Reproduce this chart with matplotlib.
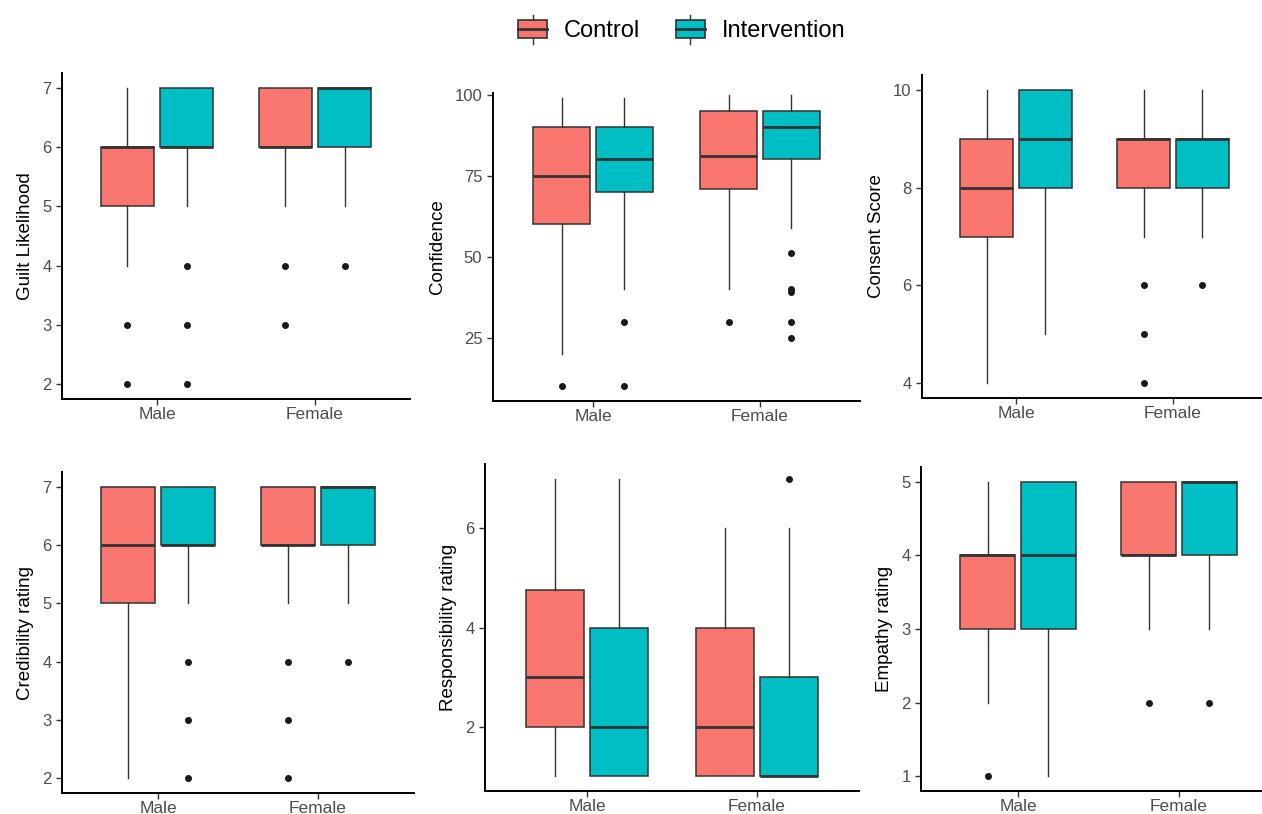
import matplotlib
matplotlib.use('Agg')
import matplotlib.pyplot as plt
from matplotlib.patches import Rectangle
from matplotlib.lines import Line2D
from matplotlib.legend_handler import HandlerBase

plt.rcParams['font.family'] = ['Liberation Sans', 'DejaVu Sans']

W, H = 1262, 814

GENDERS = ['Male', 'Female']
ARMS = ['Control', 'Intervention']
ARM_COLORS = ['#F8766D', '#00BFC4']

# order of boxes: Male-Control, Male-Intervention, Female-Control, Female-Intervention
# each row: whislo, q1, median, q3, whishi
guilt_stats = [[4, 5, 6, 6, 7], [5, 6, 6, 7, 7], [5, 6, 6, 7, 7], [5, 6, 7, 7, 7]]
guilt_fliers = [[3, 2], [4, 3, 2], [4, 3], [4]]

confidence_stats = [[20, 60, 75, 90, 99], [40, 70, 80, 90, 99],
                    [40, 71, 81, 95, 100], [59, 80, 90, 95, 100]]
confidence_fliers = [[10], [30, 10], [30], [51, 40, 39, 30, 25]]

consent_stats = [[4, 7, 8, 9, 10], [5, 8, 9, 10, 10], [7, 8, 9, 9, 10], [7, 8, 9, 9, 10]]
consent_fliers = [[], [], [6, 5, 4], [6]]

credibility_stats = [[2, 5, 6, 7, 7], [5, 6, 6, 7, 7], [5, 6, 6, 7, 7], [5, 6, 7, 7, 7]]
credibility_fliers = [[], [4, 3, 2], [4, 3, 2], [4]]

responsibility_stats = [[1, 2, 3, 4.75, 7], [1, 1, 2, 4, 7], [1, 1, 2, 4, 6], [1, 1, 1, 3, 6]]
responsibility_fliers = [[], [], [], [7]]

empathy_stats = [[2, 3, 4, 4, 5], [1, 3, 4, 5, 5], [3, 4, 4, 5, 5], [3, 4, 5, 5, 5]]
empathy_fliers = [[1], [], [2], [2]]

panels = [
    ('Guilt Likelihood', guilt_stats, guilt_fliers, [2, 3, 4, 5, 6, 7], (1.75, 7.25)),
    ('Confidence', confidence_stats, confidence_fliers, [25, 50, 75, 100], (5.5, 100.5)),
    ('Consent Score', consent_stats, consent_fliers, [4, 6, 8, 10], (3.7, 10.3)),
    ('Credibility rating', credibility_stats, credibility_fliers, [2, 3, 4, 5, 6, 7], (1.75, 7.25)),
    ('Responsibility rating', responsibility_stats, responsibility_fliers, [2, 4, 6], (0.7, 7.3)),
    ('Empathy rating', empathy_stats, empathy_fliers, [1, 2, 3, 4, 5], (0.8, 5.2)),
]

# panel placement in pixels: x of Male tick, x of Female tick, top, bottom
placement = [
    (157, 315, 73, 399), (593, 760, 93, 401), (1016, 1173, 75, 398),
    (158, 318, 472, 793), (587, 757, 464, 791), (1018, 1179, 467, 791),
]

DODGE = 0.1875
BOX_W = 0.34
EDGE = '#333333'


class BoxKey(HandlerBase):
    """legend key drawn like a small boxplot"""

    def create_artists(self, legend, orig_handle, xdescent, ydescent,
                       width, height, fontsize, trans):
        x0, y0 = -xdescent, -ydescent
        xc = x0 + width / 2
        box = Rectangle((x0, y0 + 0.18 * height), width, 0.64 * height,
                        facecolor=orig_handle.get_facecolor(), edgecolor=EDGE,
                        linewidth=1.2, transform=trans)
        med = Line2D([x0, x0 + width], [y0 + 0.5 * height] * 2, color=EDGE,
                     linewidth=2, transform=trans)
        wlo = Line2D([xc, xc], [y0 - 0.02 * height, y0 + 0.18 * height], color=EDGE,
                     linewidth=1, transform=trans)
        whi = Line2D([xc, xc], [y0 + 0.82 * height, y0 + 1.02 * height], color=EDGE,
                     linewidth=1, transform=trans)
        return [wlo, whi, box, med]


fig = plt.figure(figsize=(W / 100, H / 100), dpi=100)

for (label, stats, fliers, yticks, ylim), (xm, xf, top, bot) in zip(panels, placement):
    unit = xf - xm
    left = xm - 0.6 * unit
    ax = fig.add_axes([left / W, 1 - bot / H, 2.2 * unit / W, (bot - top) / H])

    bxp_stats = []
    positions = []
    colors = []
    for i, (s, f) in enumerate(zip(stats, fliers)):
        g, a = divmod(i, 2)
        bxp_stats.append(dict(whislo=s[0], q1=s[1], med=s[2], q3=s[3], whishi=s[4], fliers=f))
        positions.append(g + 1 + (DODGE if a else -DODGE))
        colors.append(ARM_COLORS[a])

    bp = ax.bxp(bxp_stats, positions=positions, widths=BOX_W, patch_artist=True,
                showcaps=False,
                boxprops=dict(edgecolor=EDGE, linewidth=1.1),
                medianprops=dict(color=EDGE, linewidth=2),
                whiskerprops=dict(color=EDGE, linewidth=1),
                flierprops=dict(marker='o', markersize=4, markerfacecolor='#1a1a1a',
                                markeredgecolor='#1a1a1a'))
    for patch, c in zip(bp['boxes'], colors):
        patch.set_facecolor(c)

    ax.set_xlim(0.4, 2.6)
    ax.set_ylim(*ylim)
    ax.set_xticks([1, 2])
    ax.set_xticklabels(GENDERS)
    ax.set_yticks(yticks)
    ax.set_ylabel(label, fontsize=13.5, color='black', labelpad=6)
    ax.tick_params(axis='x', labelsize=12.5, labelcolor='#4d4d4d', color='#333333',
                   length=4, width=1, pad=2)
    ax.tick_params(axis='y', labelsize=12, labelcolor='#4d4d4d', color='#333333',
                   length=4, width=1)
    for side in ('top', 'right'):
        ax.spines[side].set_visible(False)
    for side in ('left', 'bottom'):
        ax.spines[side].set_linewidth(1.4)
        ax.spines[side].set_color('black')
    ax.set_facecolor('white')

handles = [Rectangle((0, 0), 1, 1, facecolor=c) for c in ARM_COLORS]
fig.legend(handles, ARMS, handler_map={Rectangle: BoxKey()}, loc='center',
           bbox_to_anchor=(0.54, 0.964), ncol=2, frameon=False, fontsize=17,
           handlelength=1.25, handleheight=1.45, handletextpad=0.7,
           columnspacing=1.5)

fig.savefig('out.png', dpi=100, facecolor='white')
